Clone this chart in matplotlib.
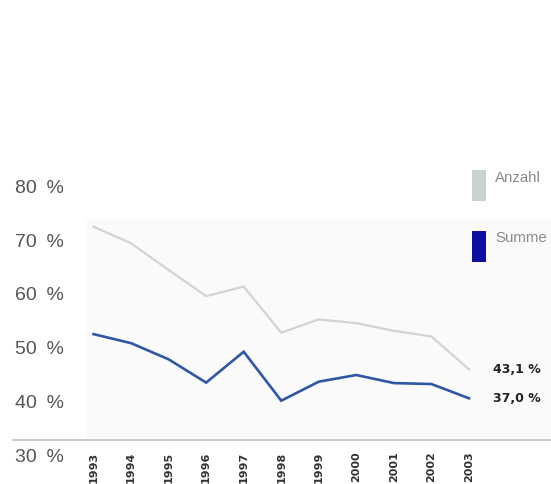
import matplotlib
matplotlib.use("Agg")
import matplotlib.pyplot as plt
from matplotlib.patches import Rectangle

# --- data -------------------------------------------------------------
years = [1993, 1994, 1995, 1996, 1997, 1998, 1999, 2000, 2001, 2002, 2003]
anzahl = [73.1, 69.6, 64.0, 58.5, 60.5, 50.8, 53.6, 52.8, 51.2, 50.0, 43.1]
summe = [50.5, 48.6, 45.2, 40.3, 46.8, 36.5, 40.5, 41.9, 40.2, 40.0, 37.0]
series_names = ["Anzahl", "Summe"]
series_colors = ["#d3d3d3", "#2f57a6"]
swatch_colors = ["#c6d4cd", "#0c0fa0"]
scale_ticks = [30, 40, 50, 60, 70, 80]
scale_labels = ["30 %", "40 %", "50 %", "60 %", "70 %", "80 %"]

W, H = 551, 484
fig = plt.figure(figsize=(W / 100, H / 100), dpi=100)
fig.patch.set_facecolor("white")


def frac(x0, y0, x1, y1):
    """pixel box (top-left origin) -> figure fraction rect"""
    return [x0 / W, 1 - y1 / H, (x1 - x0) / W, (y1 - y0) / H]


# faint plot background panel
bg = fig.add_axes(frac(86, 220, 551, 440), zorder=0)
bg.set_facecolor("#fafafa")
bg.set_xticks([])
bg.set_yticks([])
for s in bg.spines.values():
    s.set_visible(False)

# main data axes (transparent), bottom rule extends to the left margin
ax = fig.add_axes(frac(13, 220, 551, 440), zorder=2)
ax.patch.set_alpha(0)
px_per_year = 37.55
x_left = years[0] - (93.5 - 13) / px_per_year
ax.set_xlim(x_left, x_left + (551 - 13) / px_per_year)
px_per_pct = 4.754
y_bot = summe[-1] - (440 - 398.3) / px_per_pct
ax.set_ylim(y_bot, y_bot + 220 / px_per_pct)

ax.plot(years, anzahl, color=series_colors[0], lw=1.6, solid_joinstyle="miter")
ax.plot(years, summe, color=series_colors[1], lw=1.9, solid_joinstyle="miter")

for s in ["top", "right", "left"]:
    ax.spines[s].set_visible(False)
ax.spines["bottom"].set_color("#c8c8c8")
ax.spines["bottom"].set_linewidth(1.3)
ax.set_yticks([])
ax.set_xticks(years)
ax.set_xticklabels([str(y) for y in years], rotation=90, fontsize=8.0,
                   fontweight="bold", color="#333333", va="top")
ax.tick_params(axis="x", length=0, pad=8.3)

# end-of-line value labels
for vals in (anzahl, summe):
    ax.annotate(f"{vals[-1]:.1f} %".replace(".", ","), xy=(years[-1], vals[-1]),
                xytext=(17.5, 0), textcoords="offset points", va="center",
                ha="left", fontsize=9.0, fontweight="bold", color="#222222",
                annotation_clip=False)

# percentage scale on the left
lab = fig.add_axes(frac(66, 170, 80, 470), zorder=1)
lab.patch.set_alpha(0)
pp = 5.37
lab.set_ylim(30 - (470 - 455) / pp, 30 + (455 - 170) / pp)
lab.set_xticks([])
lab.set_yticks(scale_ticks)
lab.set_yticklabels([t.replace(" ", "\u2002") for t in scale_labels],
                    fontsize=14, color="#555555", family="Liberation Sans")
lab.tick_params(axis="y", length=0, pad=1.5)
for s in lab.spines.values():
    s.set_visible(False)

# legend swatches
legend_boxes = [(471.7, 170, 486, 200.7), (471.7, 230.7, 486, 261.7)]
for name, col, (x0, y0, x1, y1) in zip(series_names, swatch_colors, legend_boxes):
    fig.patches.append(Rectangle((x0 / W, 1 - y1 / H), (x1 - x0) / W, (y1 - y0) / H,
                                 transform=fig.transFigure, facecolor=col,
                                 edgecolor="none"))
    fig.text(495 / W, 1 - (y0 + 0.5) / H, name, ha="left", va="top",
             fontsize=10.8, color="#8a8a8a", family="Liberation Sans")

fig.savefig("out.png", dpi=100)
